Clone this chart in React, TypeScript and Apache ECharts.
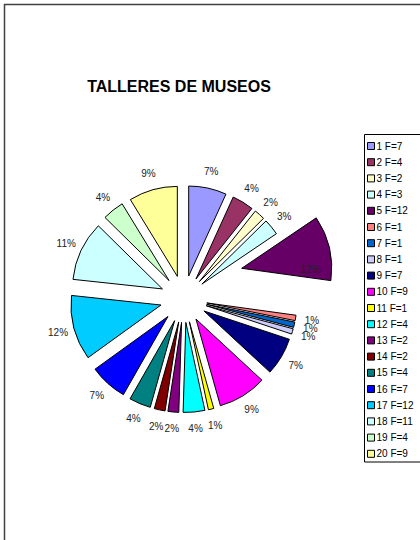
import React, { useEffect, useRef } from 'react';
import * as echarts from 'echarts';

const categories = ['1', '2', '3', '4', '5', '6', '7', '8', '9', '10', '11', '12', '13', '14', '15', '16', '17', '18', '19', '20'];
const frequencies = [7, 4, 2, 3, 12, 1, 1, 1, 7, 9, 1, 4, 2, 2, 4, 7, 12, 11, 4, 9];
const colors = [
  '#9999FF', '#993366', '#FFFFCC', '#CCFFFF', '#660066',
  '#FF8080', '#0066CC', '#CCCCFF', '#000080', '#FF00FF',
  '#FFFF00', '#00FFFF', '#800080', '#800000', '#008080',
  '#0000FF', '#00CCFF', '#CCFFFF', '#CCFFCC', '#FFFF99',
];
const chartTitle = 'TALLERES DE MUSEOS';
const explodedIndex = 4;

const FONT = 'Liberation Sans, Arial, sans-serif';

export default function App() {
  const ref = useRef<HTMLDivElement>(null);

  useEffect(() => {
    document.body.style.margin = '0';
    const chart = echarts.init(ref.current!, null, { renderer: 'svg' });
    const total = frequencies.reduce((a, b) => a + b, 0);
    const names = categories.map((c, i) => `${c} F=${frequencies[i]}`);
    const pct = (v: number) => Math.round((v / total) * 100) + '%';
    const center = [183.7, 299];
    const R = 90;
    const before = frequencies.slice(0, explodedIndex).reduce((a, b) => a + b, 0);
    const after = total - before - frequencies[explodedIndex];

    chart.setOption({
      animation: false,
      backgroundColor: '#ffffff',
      graphic: [
        {
          type: 'rect',
          silent: true,
          shape: { x: 4.5, y: 4.5, width: 540, height: 660 },
          style: { fill: 'none', stroke: '#404040', lineWidth: 1.5 },
        },
        {
          type: 'rect',
          silent: true,
          shape: { x: 364.5, y: 134.5, width: 100, height: 327.5 },
          style: { fill: 'none', stroke: '#000000', lineWidth: 1 },
        },
        {
          type: 'text',
          x: 179,
          y: 86,
          style: {
            text: chartTitle,
            fontSize: 16,
            fontWeight: 'bold',
            fontFamily: FONT,
            fill: '#000000',
            align: 'center',
            verticalAlign: 'middle',
          },
        },
      ],
      legend: {
        orient: 'vertical',
        left: 367,
        top: 140,
        padding: 0,
        itemWidth: 7,
        itemHeight: 7,
        itemGap: 4.2,
        icon: 'rect',
        selectedMode: false,
        data: names,
        itemStyle: { borderColor: '#000000', borderWidth: 1 },
        textStyle: { fontSize: 10, lineHeight: 12, fontFamily: FONT, color: '#000000', padding: [0, 0, 0, -3] },
      },
      series: [
        {
          type: 'pie',
          name: 'exploded',
          center: [241.7, 268.3],
          radius: [0, R],
          startAngle: 90,
          clockwise: true,
          silent: true,
          label: { show: false },
          labelLine: { show: false },
          itemStyle: { borderColor: '#000000', borderWidth: 1 },
          data: [
            { name: '__before', value: before, itemStyle: { opacity: 0 } },
            { name: names[explodedIndex], value: frequencies[explodedIndex], itemStyle: { color: colors[explodedIndex] } },
            { name: '__after', value: after, itemStyle: { opacity: 0 } },
          ],
        },
        {
          type: 'pie',
          name: 'main',
          center,
          radius: [0, R],
          startAngle: 90,
          clockwise: true,
          selectedMode: 'multiple',
          selectedOffset: 23.5,
          label: { show: false },
          labelLine: { show: false },
          itemStyle: { borderColor: '#000000', borderWidth: 1 },
          data: frequencies.map((f, i) => ({
            name: names[i],
            value: f,
            selected: true,
            itemStyle: i === explodedIndex ? { opacity: 0 } : { color: colors[i] },
          })),
        },
        {
          type: 'pie',
          name: 'labels',
          center,
          radius: [122, 132],
          startAngle: 90,
          clockwise: true,
          silent: true,
          avoidLabelOverlap: false,
          labelLayout: { hideOverlap: false },
          itemStyle: { color: 'rgba(0,0,0,0)', borderWidth: 0 },
          label: {
            show: true,
            position: 'inside',
            rotate: 0,
            fontSize: 10,
            fontFamily: FONT,
            color: '#222222',
            textBorderWidth: 0,
            formatter: (p: any) => pct(p.value),
          },
          labelLine: { show: false },
          data: frequencies.map((f, i) => ({ name: names[i], value: f })),
        },
      ],
    });

    return () => chart.dispose();
  }, []);

  return <div ref={ref} style={{ width: 420, height: 540 }} />;
}
